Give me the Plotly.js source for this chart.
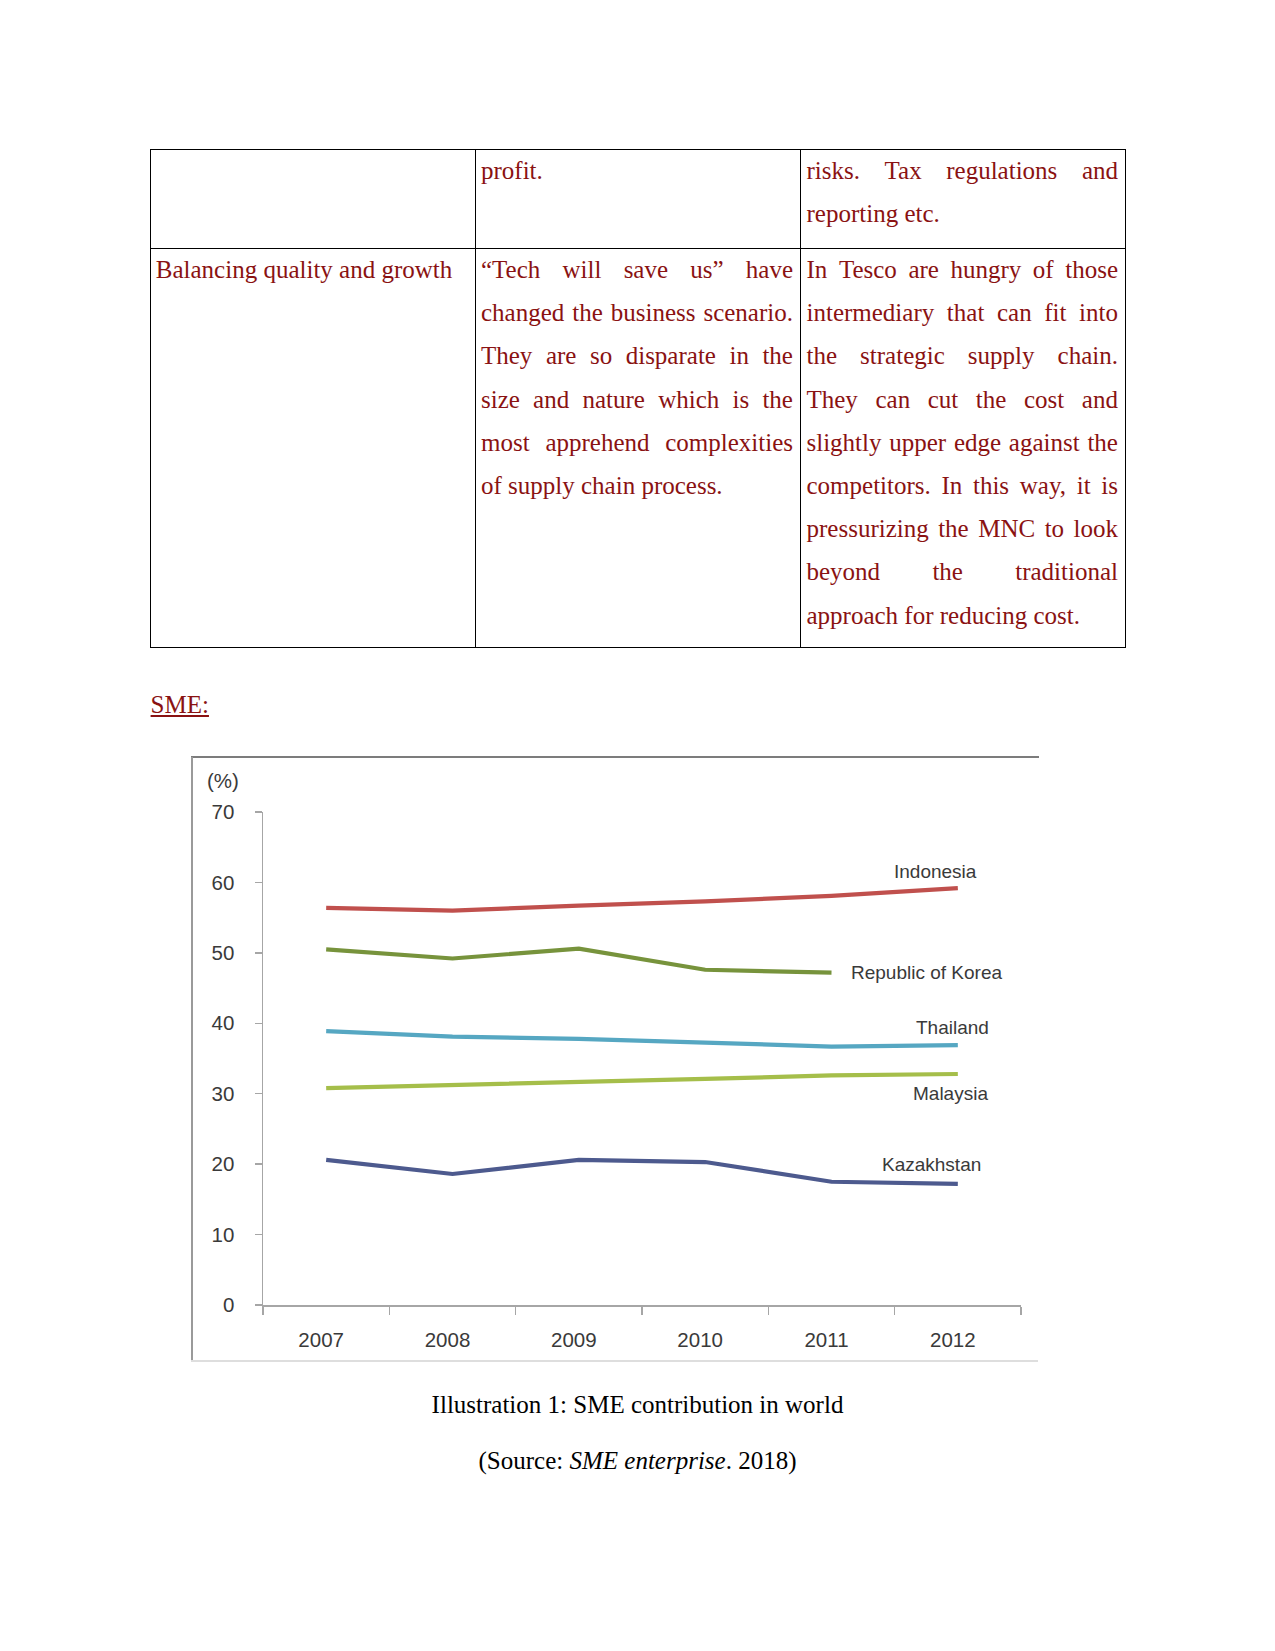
<!DOCTYPE html>
<html>
<head>
<meta charset="utf-8">
<script src="https://cdn.plot.ly/plotly-3.0.1.min.js"></script>
<style>
  html, body { margin:0; padding:0; background:#fff; }
  body { width:1275px; height:1651px; position:relative; overflow:hidden; }
  .serif { font-family:"Liberation Serif","Times New Roman",serif; font-size:25px; line-height:43.2px; }
  .red { color:#8a1212; }
  .blk { position:absolute; }
  .line { height:43.2px; white-space:nowrap; }
  .just { display:flex; justify-content:space-between; }
  .hl { position:absolute; height:1px; background:#000; }
  .vl { position:absolute; width:1px; background:#000; }
</style>
</head>
<body>
<!-- table borders -->
<div class="hl" style="left:150px;top:149px;width:976px"></div>
<div class="hl" style="left:150px;top:248px;width:976px"></div>
<div class="hl" style="left:150px;top:647px;width:976px"></div>
<div class="vl" style="left:150px;top:149px;height:499px"></div>
<div class="vl" style="left:475px;top:149px;height:499px"></div>
<div class="vl" style="left:800px;top:149px;height:499px"></div>
<div class="vl" style="left:1125px;top:149px;height:499px"></div>

<div id="cells"></div>

<div class="blk serif red" style="left:150.6px;top:683px;text-decoration:underline;">SME:</div>

<!-- chart frame -->
<div style="position:absolute;left:192px;top:756px;width:846px;height:605px;" id="chart"></div>
<div style="position:absolute;left:191px;top:756px;width:848px;height:2px;background:#7c7c7c;"></div>
<div style="position:absolute;left:191px;top:757px;width:1.5px;height:604px;background:#9a9a9a;"></div>
<div style="position:absolute;left:191px;top:1360px;width:847px;height:1.5px;background:#dedede;"></div>

<div class="blk serif" style="left:0;width:1275px;top:1383px;text-align:center;color:#000;">Illustration 1: SME contribution in world</div>
<div class="blk serif" style="left:0;width:1275px;top:1439px;text-align:center;color:#000;">(Source: <i>SME enterprise</i>. 2018)</div>

<script>
// ---- table text ----
const row1Col2 = ["profit."];
const row1Col3 = ["risks. Tax regulations and", "reporting etc."];
const row2Col1 = ["Balancing quality and growth"];
const row2Col2 = ["\u201CTech will save us\u201D have", "changed the business scenario.", "They are so disparate in the",
  "size and nature which is the", "most apprehend complexities", "of supply chain process."];
const row2Col3 = ["In Tesco are hungry of those", "intermediary that can fit into", "the strategic supply chain.",
  "They can cut the cost and", "slightly upper edge against the", "competitors. In this way, it is",
  "pressurizing the MNC to look", "beyond the traditional", "approach for reducing cost."];

// ---- chart data ----
const years = ["2007", "2008", "2009", "2010", "2011", "2012"];
const indonesia = [56.4, 56.0, 56.7, 57.3, 58.1, 59.2];
const korea = [50.5, 49.2, 50.6, 47.6, 47.2, null];
const thailand = [38.9, 38.1, 37.8, 37.3, 36.7, 36.9];
const malaysia = [30.8, 31.2, 31.7, 32.1, 32.6, 32.8];
const kazakhstan = [20.6, 18.6, 20.6, 20.3, 17.5, 17.2];
const seriesNames = ["Indonesia", "Republic of Korea", "Thailand", "Malaysia", "Kazakhstan"];
const yTickVals = [0, 10, 20, 30, 40, 50, 60, 70];
const unitLabel = "(%)";

// build table cells
function cell(lines, left, top, width, justify) {
  const d = document.createElement('div');
  d.className = 'blk serif red';
  d.style.left = left + 'px'; d.style.top = top + 'px'; d.style.width = width + 'px';
  lines.forEach((ln, i) => {
    const l = document.createElement('div');
    l.className = 'line';
    if (justify && i < lines.length - 1) {
      l.classList.add('just');
      ln.split(' ').forEach(w => { const s = document.createElement('span'); s.textContent = w; l.appendChild(s); });
    } else {
      l.textContent = ln;
    }
    d.appendChild(l);
  });
  document.getElementById('cells').appendChild(d);
}
cell(row1Col2, 481, 149, 312, true);
cell(row1Col3, 806.5, 149, 311.5, true);
cell(row2Col1, 155.8, 248, 312, false);
cell(row2Col2, 481, 248, 312, true);
cell(row2Col3, 806.5, 248, 311.5, true);

// chart
const seriesData = [indonesia, korea, thailand, malaysia, kazakhstan];
const colors = ["#c0504d", "#77933c", "#56a7c2", "#a5be4a", "#4d5a8e"];
const traces = seriesData.map((ys, i) => ({
  type: 'scatter', mode: 'lines', x: years, y: ys, name: seriesNames[i],
  line: { color: colors[i], width: 4.2 }, connectgaps: false, hoverinfo: 'skip'
}));
const FONT = '"Liberation Sans", Arial, sans-serif';
const labelPos = [[4.827, 61.5], [4.752, 47.2], [4.96, 39.4], [4.944, 30.1], [4.793, 19.96]];
const annotations = seriesNames.map((n, i) => ({
  x: labelPos[i][0], y: labelPos[i][1], xref: 'x', yref: 'y', text: n, showarrow: false,
  xanchor: 'center', yanchor: 'middle', font: { size: 19, color: '#3a3a3a', family: FONT }
}));
annotations.push({ x: -0.0525, y: 1.064, xref: 'paper', yref: 'paper', text: unitLabel, showarrow: false,
  xanchor: 'center', yanchor: 'middle', font: { size: 20.5, color: '#3a3a3a', family: FONT } });

const layout = {
  width: 846, height: 605,
  margin: { l: 71, r: 17, t: 56, b: 56 },
  paper_bgcolor: 'rgba(0,0,0,0)', plot_bgcolor: 'rgba(0,0,0,0)',
  showlegend: false,
  font: { family: FONT, size: 20.5, color: '#3a3a3a' },
  xaxis: {
    type: 'category', range: [-0.5, 5.5], tickson: 'boundaries',
    showline: true, linecolor: '#a6a6a6', linewidth: 1.5, showgrid: false, zeroline: false,
    ticks: 'outside', ticklen: 8, tickcolor: '#a6a6a6', tickwidth: 1.5,
    ticklabelstandoff: 16, ticklabelshift: -5, tickfont: { size: 20.5, color: '#3a3a3a' }
  },
  yaxis: {
    range: [0, 70], tickvals: yTickVals, ticktext: yTickVals.map(String),
    showline: true, linecolor: '#a6a6a6', linewidth: 1.5, showgrid: false, zeroline: false,
    ticks: 'outside', ticklen: 7, tickcolor: '#a6a6a6', tickwidth: 1.5,
    ticklabelstandoff: 16, tickfont: { size: 20.5, color: '#3a3a3a' }
  },
  annotations: annotations
};
Plotly.newPlot('chart', traces, layout, { staticPlot: true, displayModeBar: false });
</script>
</body>
</html>
